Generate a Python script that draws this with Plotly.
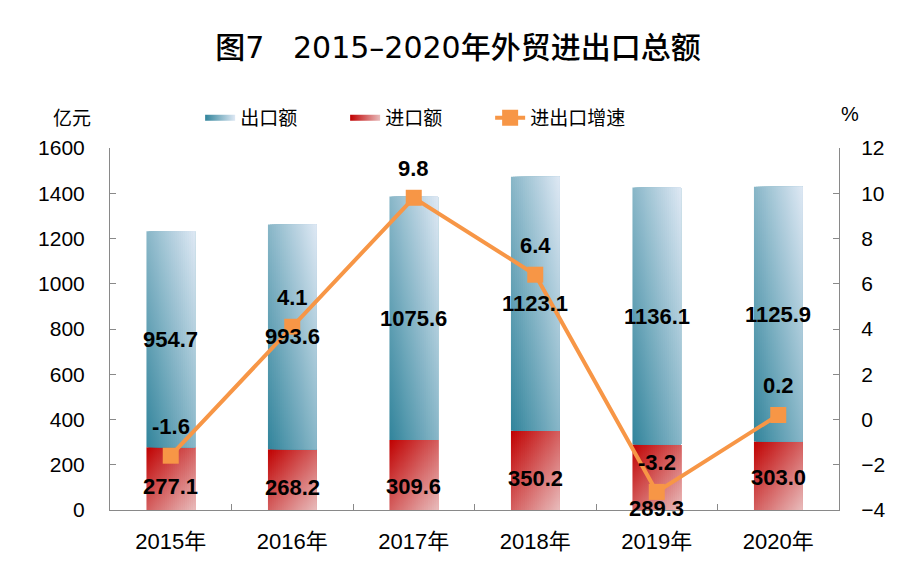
import plotly.graph_objects as go

# chart data
years = ['2015年', '2016年', '2017年', '2018年', '2019年', '2020年']
exports = [954.7, 993.6, 1075.6, 1123.1, 1136.1, 1125.9]
imports = [277.1, 268.2, 309.6, 350.2, 289.3, 303.0]
growth = [-1.6, 4.1, 9.8, 6.4, -3.2, 0.2]

# label nudges (px) for the import labels
imp_label_shift = [-8, -8, -12, -8, -31, -2]

EXP_DARK, EXP_LIGHT = (49, 132, 155), (222, 232, 244)
IMP_DARK, IMP_LIGHT = (192, 0, 0), (232, 188, 188)
ORANGE = '#F79646'
AXIS_COL = '#898989'
FONT = 'Liberation Sans, Arial, Noto Sans CJK SC, sans-serif'
CJK = 'Noto Sans CJK SC, Liberation Sans, sans-serif'

BAR_W = 0.4
NX = 24
xs = list(range(len(years)))


def mix(c1, c2, t):
    return 'rgb(%d,%d,%d)' % tuple(round(a + (b - a) * t) for a, b in zip(c1, c2))


def add_gradient_bars(fig, bottoms, heights, dark, light, flip):
    '''diagonal gradient bars: vertical-gradient strips, each one running to the
    right edge of the bar and painted over the one before it (no seams)'''
    for k, (b, h) in enumerate(zip(bottoms, heights)):
        left, right = xs[k] - BAR_W / 2, xs[k] + BAR_W / 2
        for i in range(NX):
            u = (i + 0.5) / NX
            x0 = left + i * BAR_W / NX
            if flip:
                c_bot, c_top = mix(dark, light, (u + 1) / 2), mix(dark, light, u / 2)
            else:
                c_bot, c_top = mix(dark, light, u / 2), mix(dark, light, (u + 1) / 2)
            fig.add_trace(go.Scatter(
                x=[x0, right, right, x0, x0],
                y=[b, b, b + h, b + h, b],
                mode='none', fill='toself',
                fillgradient=dict(type='vertical', start=b, stop=b + h,
                                  colorscale=[[0, c_bot], [1, c_top]]),
                showlegend=False, hoverinfo='skip'))


fig = go.Figure()

add_gradient_bars(fig, [0] * len(years), imports, IMP_DARK, IMP_LIGHT, flip=True)
add_gradient_bars(fig, imports, exports, EXP_DARK, EXP_LIGHT, flip=False)

# legend entries
fig.add_trace(go.Scatter(
    x=[None], y=[None], mode='none', fill='toself', name='出口额',
    fillcolor=mix(EXP_DARK, EXP_LIGHT, 0.5),
    fillgradient=dict(type='horizontal',
                      colorscale=[[0, mix(EXP_DARK, EXP_LIGHT, 0)], [1, mix(EXP_DARK, EXP_LIGHT, 1)]])))
fig.add_trace(go.Scatter(
    x=[None], y=[None], mode='none', fill='toself', name='进口额',
    fillcolor=mix(IMP_DARK, IMP_LIGHT, 0.5),
    fillgradient=dict(type='horizontal',
                      colorscale=[[0, mix(IMP_DARK, IMP_LIGHT, 0)], [1, mix(IMP_DARK, IMP_LIGHT, 1)]])))

fig.add_trace(go.Scatter(
    x=xs, y=growth, yaxis='y2', name='进出口增速',
    mode='lines+markers',
    line=dict(color=ORANGE, width=4),
    marker=dict(symbol='square', size=16, color=ORANGE),
    hoverinfo='skip'))

annotations = []
lab_font = dict(family=FONT, size=22, color='black', weight='bold')
for k in xs:
    annotations.append(dict(x=k, y=imports[k] + exports[k] / 2, xref='x', yref='y',
                            text=f'{exports[k]:.1f}', showarrow=False, font=lab_font))
    annotations.append(dict(x=k, y=imports[k] / 2, xref='x', yref='y', yshift=imp_label_shift[k],
                            text=f'{imports[k]:.1f}', showarrow=False, font=lab_font))
    annotations.append(dict(x=k, y=growth[k], xref='x', yref='y2', yshift=29,
                            text=f'{growth[k]:.1f}', showarrow=False, font=lab_font))

annotations.append(dict(x=-0.052, y=1.086, xref='paper', yref='paper', text='亿元', showarrow=False,
                        xanchor='center', yanchor='middle',
                        font=dict(family=CJK, size=19, color='black')))
annotations.append(dict(x=1.015, y=1.094, xref='paper', yref='paper', text='%', showarrow=False,
                        xanchor='center', yanchor='middle',
                        font=dict(family=FONT, size=20, color='black')))

fig.update_layout(
    width=900,
    height=575,
    margin=dict(l=102, r=69, t=140, b=73),
    plot_bgcolor='white',
    paper_bgcolor='white',
    title=dict(text='图7\u00a0\u00a0\u00a02015–2020年外贸进出口总额', x=0.5, xanchor='center',
               y=1 - 39 / 575, yanchor='middle',
               font=dict(family='DejaVu Sans, Noto Sans CJK SC, sans-serif', size=30,
                         color='black', weight=500)),
    legend=dict(orientation='h', x=0.422, xanchor='center', y=1.083, yanchor='middle',
                font=dict(family=CJK, size=19, color='black'),
                traceorder='normal', entrywidth=100, bgcolor='rgba(0,0,0,0)'),
    annotations=annotations,
    xaxis=dict(range=[-0.5, len(years) - 0.5], tickmode='array', tickvals=xs, ticktext=years,
               showline=True, linecolor=AXIS_COL, linewidth=1, ticks='',
               minor=dict(tickmode='array', tickvals=[k + 0.5 for k in xs[:-1]],
                          ticks='inside', ticklen=6, tickcolor=AXIS_COL, showgrid=False),
               showgrid=False, zeroline=False, ticklabelstandoff=12,
               tickfont=dict(family=FONT, size=22, color='black')),
    yaxis=dict(range=[0, 1600], dtick=200, showline=True, linecolor=AXIS_COL, linewidth=1,
               ticks='inside', ticklen=6, tickcolor=AXIS_COL, showgrid=False, zeroline=False,
               ticklabelstandoff=20, tickfont=dict(family=FONT, size=21, color='black')),
    yaxis2=dict(range=[-4, 12], dtick=2, overlaying='y', side='right', showline=True,
                linecolor=AXIS_COL, linewidth=1, ticks='inside', ticklen=6, tickcolor=AXIS_COL,
                showgrid=False, zeroline=False, ticklabelstandoff=17,
                tickfont=dict(family=FONT, size=21, color='black')),
)

fig.write_html('out.html')
